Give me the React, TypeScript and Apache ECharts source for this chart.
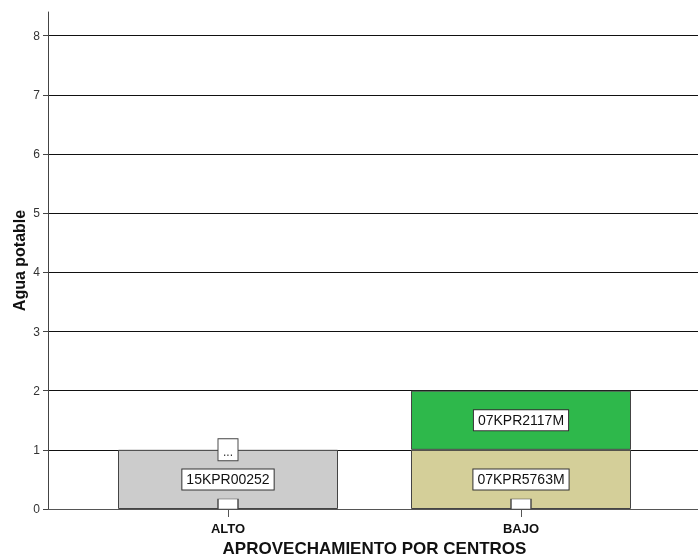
import { useEffect, useRef } from 'react';
import * as echarts from 'echarts';

const categories = ['ALTO', 'BAJO'];
const lowerValues = [1, 1];
const lowerNames = ['15KPR00252', '07KPR5763M'];
const lowerColors = ['#cccccc', '#d4cf99'];
const upperValues: (number | string)[] = ['-', 1];
const upperNames = ['', '07KPR2117M'];
const upperColor = '#2eb84b';
const moreMarkers = [['ALTO', 1]];
const baseMarkers = [['ALTO', 0], ['BAJO', 0]];
const yTicks = [0, 1, 2, 3, 4, 5, 6, 7, 8];

const FONT = "'Liberation Sans', Arial, sans-serif";

export default function App() {
  const ref = useRef<HTMLDivElement>(null);
  useEffect(() => {
    if (!ref.current) return;
    const chart = echarts.init(ref.current, undefined, { renderer: 'svg' });
    const labelBox = {
      show: true,
      position: 'inside',
      backgroundColor: '#ffffff',
      borderColor: '#333333',
      borderWidth: 1,
      padding: [3, 4, 3, 4],
      fontSize: 14,
      fontFamily: FONT,
      color: '#111',
    };
    chart.setOption({
      animation: false,
      textStyle: { fontFamily: FONT },
      grid: [
        { left: 48, right: 0, top: 12, bottom: 51, outerBoundsMode: 'none', containLabel: false },
        { left: 81.5, width: 586, top: 12, bottom: 51, outerBoundsMode: 'none', containLabel: false },
      ],
      xAxis: [
        {
          gridIndex: 0, type: 'value', min: 0, max: 1,
          axisLine: { show: true, lineStyle: { color: '#555', width: 1 } },
          axisTick: { show: false }, axisLabel: { show: false }, splitLine: { show: false },
        },
        {
          gridIndex: 1, type: 'category', data: categories,
          axisLine: { show: false },
          axisTick: { show: true, alignWithLabel: true, length: 8, lineStyle: { color: '#555' } },
          axisLabel: { fontWeight: 'bold', fontSize: 13, color: '#111', margin: 13, fontFamily: FONT },
          name: 'APROVECHAMIENTO POR CENTROS', nameLocation: 'middle', nameGap: 31,
          nameMoveOverlap: false,
          nameTextStyle: { fontWeight: 'bold', fontSize: 17, color: '#111', fontFamily: FONT },
        },
      ],
      yAxis: [
        {
          gridIndex: 0, type: 'value', min: 0, max: 8.4, interval: 1,
          axisLine: { show: true, lineStyle: { color: '#444' } },
          axisTick: { show: true, length: 5, customValues: yTicks, lineStyle: { color: '#444' } },
          axisLabel: { customValues: yTicks, fontSize: 12, color: '#333', margin: 8, fontFamily: FONT },
          splitLine: { show: true, lineStyle: { color: '#111', width: 1 } },
          name: 'Agua potable', nameLocation: 'middle', nameGap: 21,
          nameMoveOverlap: false,
          nameTextStyle: { fontWeight: 'bold', fontSize: 16, color: '#111', fontFamily: FONT },
        },
        { gridIndex: 1, type: 'value', min: 0, max: 8.4, show: false },
      ],
      series: [
        {
          type: 'bar', xAxisIndex: 1, yAxisIndex: 1, stack: 's', barWidth: 220,
          data: lowerValues.map((v, i) => ({ value: v, itemStyle: { color: lowerColors[i] } })),
          itemStyle: { borderColor: '#444', borderWidth: 1 },
          label: { ...labelBox, formatter: (p: any) => lowerNames[p.dataIndex] },
          z: 2,
        },
        {
          type: 'bar', xAxisIndex: 1, yAxisIndex: 1, stack: 's', barWidth: 220,
          data: upperValues,
          itemStyle: { color: upperColor, borderColor: '#444', borderWidth: 1 },
          label: { ...labelBox, formatter: (p: any) => upperNames[p.dataIndex] },
          z: 2,
        },
        {
          type: 'scatter', xAxisIndex: 1, yAxisIndex: 1, data: moreMarkers,
          symbol: 'rect', symbolSize: [20, 22],
          itemStyle: { color: '#fff', borderColor: '#444', borderWidth: 1, opacity: 1 },
          label: { show: true, position: 'inside', formatter: '...', fontSize: 12, color: '#333', offset: [0, 2] },
          z: 5,
        },
        {
          type: 'scatter', xAxisIndex: 1, yAxisIndex: 1, data: baseMarkers,
          symbol: 'rect', symbolSize: [20, 10], symbolOffset: [0, -5],
          itemStyle: { color: '#fff', borderColor: '#444', borderWidth: 1, opacity: 1 },
          z: 5,
        },
      ],
    });
    return () => chart.dispose();
  }, []);
  return <div ref={ref} style={{ position: 'fixed', left: 0, top: 0, width: 698, height: 560 }} />;
}
